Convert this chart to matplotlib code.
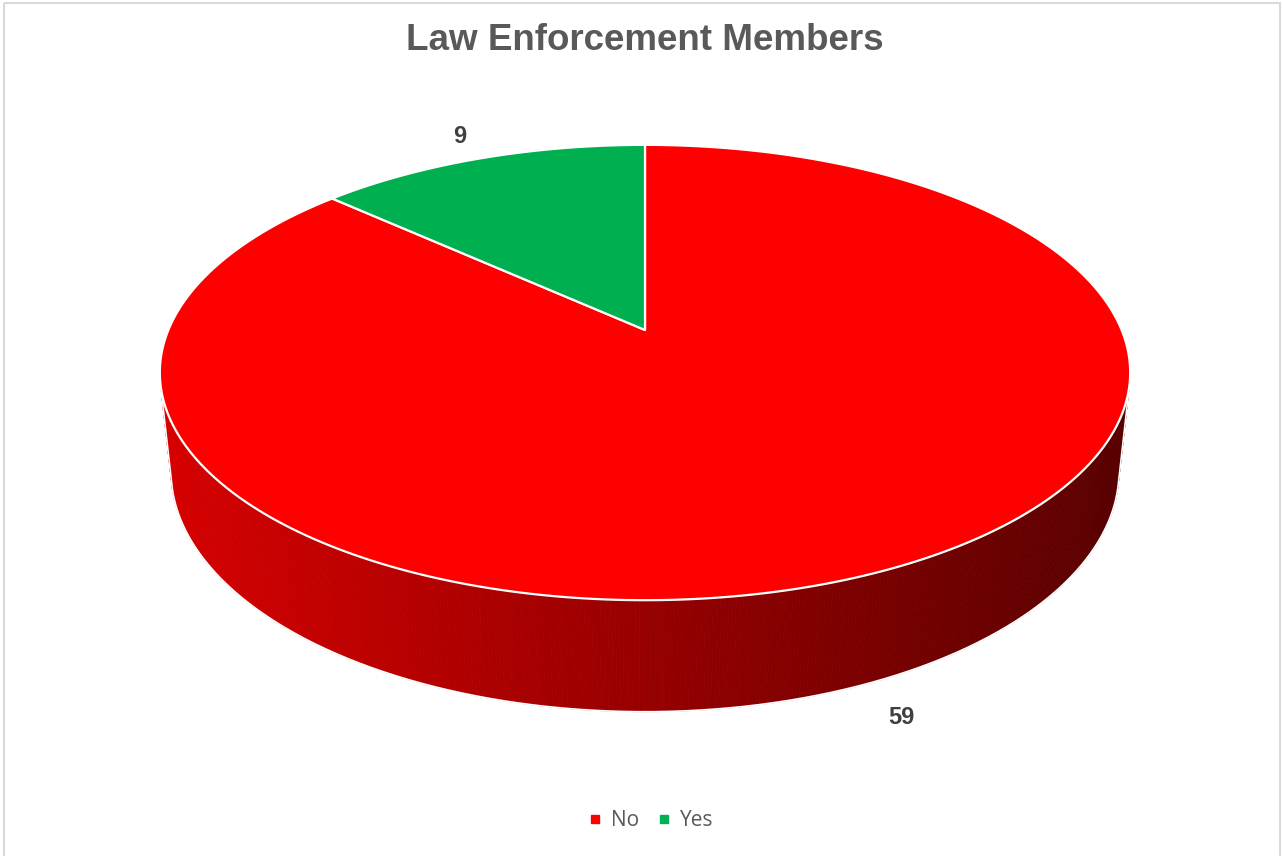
import numpy as np
import matplotlib
matplotlib.use("Agg")
import matplotlib.pyplot as plt
from matplotlib.patches import Polygon, Rectangle
from matplotlib.lines import Line2D

# ---- data ----
categories = ["No", "Yes"]
values = [59, 9]
slice_colors = ["#FF0000", "#00B050"]
title = "Law Enforcement Members"

# ---- figure ----
W, H = 1282, 856
fig = plt.figure(figsize=(W / 100, H / 100), dpi=100)
ax = fig.add_axes([0, 0, 1, 1])
ax.set_xlim(0, W)
ax.set_ylim(H, 0)
ax.axis("off")

# perspective camera for the 3D pie
phi = np.radians(27.45)
Dcam = 4.75
F = 2264.0
hgt = 0.235
CX, CY = 645.0, 330.0


def proj(theta, r=1.0, z=0.0):
    x = r * np.cos(theta)
    y = r * np.sin(theta)
    depth = Dcam + y * np.cos(phi) - z * np.sin(phi)
    u = F * x / depth
    v = F * (y * np.sin(phi) + z * np.cos(phi)) / depth
    return CX + u, CY - v


total = float(sum(values))
# Excel: first slice starts at 12 o'clock going clockwise
angles = []
start = np.pi / 2
for v in values:
    sweep = 2 * np.pi * v / total
    angles.append((start - sweep, start))
    start -= sweep

# ---- side wall (visible front part) ----
th_l = np.pi + np.arcsin(1 / (Dcam * np.cos(phi)))
th_r = 2 * np.pi - np.arcsin(1 / (Dcam * np.cos(phi)))
ths = np.linspace(th_l, th_r, 400)
for t0, t1 in zip(ths[:-1], ths[1:]):
    xa, ya = proj(t0)
    xb, yb = proj(t1)
    xc, yc = proj(t1, z=-hgt)
    xd, yd = proj(t0, z=-hgt)
    xm = (xa + xb + xc + xd) / 4
    f = np.clip((xm - 160) / (1130 - 160), 0, 1)
    rr = (215 - f * (215 - 88)) / 255
    col = (rr, 0, 0)
    ax.add_patch(Polygon([[xa, ya], [xb, yb], [xc, yc], [xd, yd]],
                         closed=True, facecolor=col, edgecolor=col, lw=0.6, zorder=1))

# side outline
xs_b, ys_b = proj(ths, z=-hgt)
xl0, yl0 = proj(th_l)
xr0, yr0 = proj(th_r)
ox = np.concatenate([[xl0], xs_b, [xr0]])
oy = np.concatenate([[yl0], ys_b, [yr0]])
ax.plot(ox, oy, color="white", lw=1.2, zorder=2)

# ---- top face slices ----
for (a0, a1), c in zip(angles, slice_colors):
    tt = np.linspace(a0, a1, 300)
    px, py = proj(tt)
    pts = np.column_stack([np.concatenate([[CX], px]), np.concatenate([[CY], py])])
    ax.add_patch(Polygon(pts, closed=True, facecolor=c, edgecolor="white",
                         lw=1.6, joinstyle="round", zorder=3))

# ---- data labels ----
label_pos = []
for (a0, a1) in angles:
    mid = (a0 + a1) / 2
    if np.sin(mid) < 0:
        label_pos.append(proj(mid, r=1.11, z=-hgt))
    else:
        label_pos.append(proj(mid, r=1.15, z=0.0))
for (lx, ly), v in zip(label_pos, values):
    ax.text(lx, ly, str(v), ha="center", va="center", fontsize=17,
            fontweight="bold", color="#404040", family="Liberation Sans", zorder=5)

# ---- title ----
ax.text(645, 40, title, ha="center", va="center", fontsize=26.5,
        fontweight="bold", color="#595959", family="Liberation Sans")

# ---- border ----
ax.add_patch(Rectangle((3.5, 2.5), 1276, 900, fill=False, edgecolor="#D9D9D9", lw=1.5, zorder=0))

# ---- legend ----
handles = [Line2D([0], [0], marker="s", color="none", markerfacecolor=c,
                  markeredgecolor=c, markersize=5.5) for c in slice_colors]
leg = fig.legend(handles, categories, loc="center", bbox_to_anchor=(651 / W, 1 - 821 / H),
                 ncol=2, frameon=False, handlelength=0.6, handletextpad=0.45,
                 columnspacing=0.9, prop={"family": "Open Sans", "size": 15})
for t in leg.get_texts():
    t.set_color("#595959")

fig.savefig("out.png", dpi=100)
